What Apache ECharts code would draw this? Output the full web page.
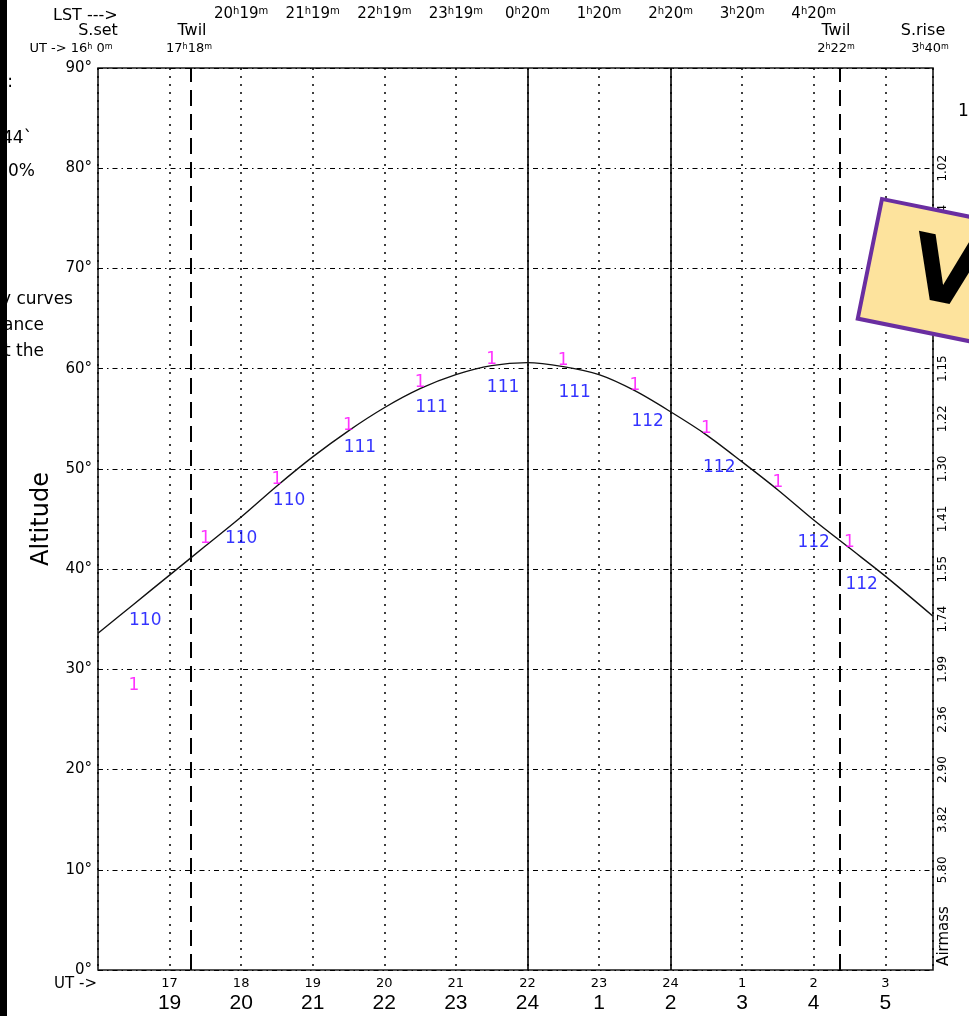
<!DOCTYPE html>
<html><head><meta charset="utf-8">
<script src="https://cdn.jsdelivr.net/npm/echarts@6/dist/echarts.min.js"></script>
<style>html,body{margin:0;padding:0;background:#fff}#c{width:969px;height:1016px}</style>
</head><body><div id="c"></div>
<script>
// ---- data ----
const utHours     = [16, 16.5, 17, 17.5, 18, 18.5, 19, 19.5, 20, 20.5, 21, 21.5, 22, 22.5, 23, 23.5, 24, 24.5, 25, 25.5, 26, 26.5, 27, 27.667];
const altitudeDeg = [33.6, 36.5, 39.4, 42.3, 45.2, 48.3, 51.2, 53.8, 56.1, 58.0, 59.4, 60.3, 60.6, 60.2, 59.4, 57.8, 55.7, 53.4, 50.7, 47.9, 44.9, 42.1, 39.3, 35.3];

const targetMarkUT   = [16.5, 17.5, 18.5, 19.5, 20.5, 21.5, 22.5, 23.5, 24.5, 25.5, 26.5];
const targetMarkAlt  = [28.4, 43.0, 48.9, 54.3, 58.6, 60.9, 60.8, 58.3, 54.0, 48.6, 42.6];
const targetMarkText = ['1','1','1','1','1','1','1','1','1','1','1'];

const moonDistUT   = [16.66, 18.0, 18.67, 19.66, 20.66, 21.66, 22.66, 23.68, 24.68, 26.0, 26.67];
const moonDistAlt  = [34.9, 43.0, 46.8, 52.1, 56.1, 58.1, 57.6, 54.7, 50.1, 42.6, 38.5];
const moonDistText = ['110','110','110','111','111','111','111','112','112','112','112'];

const twilightUT = [17.3, 26.367];   // 17h18m, 2h22m
const midnightUT = [22, 24];

const utLabels    = ['17','18','19','20','21','22','23','24','1','2','3'];
const localLabels = ['19','20','21','22','23','24','1','2','3','4','5'];
const lstLabels   = ['20h19m','21h19m','22h19m','23h19m','0h20m','1h20m','2h20m','3h20m','4h20m'];
const altTickLabels = ['0°','10°','20°','30°','40°','50°','60°','70°','80°','90°'];
const airmassAlt    = [10, 15, 20, 25, 30, 35, 40, 45, 50, 55, 60, 65, 70, 75, 80];
const airmassLabels = ['5.80','3.82','2.90','2.36','1.99','1.74','1.55','1.41','1.30','1.22','1.15','1.10','1.06','1.04','1.02'];

const headerLabels = ['LST --->','S.set','Twil','UT -> 16h 0m','17h18m','Twil','2h22m','S.rise','3h40m','UT ->'];
const sideLabels   = ['n:','44`','0%','y curves','ance','t the','1'];

// ---- layout / style ----
const FONT = 'DejaVu Sans';
const headerLayout = [
  [53,16,'left',16],[98,31,'center',16],[192,31,'center',16],[71,49,'center',13],[189,49,'center',13],
  [836,31,'center',16],[836,49,'center',13],[923,31,'center',16],[930,49,'center',13],[97,984,'right',15]
];
const sideLayout = [[13,83,'right'],[2,139,'left'],[8,172,'left'],[1,300,'left'],[3,326,'left'],[4,352,'left'],[958,112,'left']];

function supRich(s){ return s.replace(/(\d)([hm])/g, '$1{s|$2}'); }

const graphic = [];
headerLabels.forEach((t,i)=>{
  const L = headerLayout[i];
  graphic.push({type:'text', x:L[0], y:L[1], z:50, style:{
    text: supRich(t), fill:'#000', font: L[3]+'px "'+FONT+'"',
    textAlign:L[2], textVerticalAlign:'middle', align:L[2], verticalAlign:'middle',
    rich:{s:{fontSize:Math.round(L[3]*0.65), fontFamily:FONT, verticalAlign:'top', fill:'#000', color:'#000'}}
  }});
});
sideLabels.forEach((t,i)=>{
  const L = sideLayout[i];
  graphic.push({type:'text', x:L[0], y:L[1], z:50, style:{
    text:t, fill:'#000', font:'17px "'+FONT+'"', textAlign:L[2], align:L[2], textVerticalAlign:'middle', verticalAlign:'middle'
  }});
});
graphic.push({type:'text', x:944, y:936, rotation:Math.PI/2, z:50, style:{
  text:'Airmass', fill:'#000', font:'15px "'+FONT+'"', textAlign:'center', align:'center', textVerticalAlign:'middle', verticalAlign:'middle'
}});
graphic.push({type:'rect', shape:{x:0,y:0,width:7,height:1016}, style:{fill:'#000'}, z:100});
graphic.push({type:'group', x:882, y:199, rotation:-0.2, z:100, children:[
  {type:'rect', z:100, shape:{x:0,y:0,width:330,height:122}, style:{fill:'#fde39d', stroke:'#6a2ea1', lineWidth:4}},
  {type:'text', z:101, x:42, y:66, style:{text:'V', fill:'#000', font:'bold 90px "'+FONT+'"', textAlign:'left', align:'left', textVerticalAlign:'middle', verticalAlign:'middle'}}
]});

const XMAX = 27 + 40/60;
const option = {
  animation:false,
  backgroundColor:'#fff',
  textStyle:{fontFamily:FONT},
  grid:{left:98, right:36, top:68, bottom:46, show:true, borderColor:'#1a1a1a', borderWidth:1.6, backgroundColor:'transparent'},
  xAxis:[
    {type:'value', min:16, max:XMAX, interval:1, position:'bottom',
     axisLine:{show:false}, axisTick:{show:false},
     splitLine:{show:true, lineStyle:{color:'#000', type:[2,6], width:1.5}},
     axisLabel:{showMinLabel:false, showMaxLabel:false, margin:6,
       formatter:v=>{const i=Math.round(v)-17; if(i<0||i>=utLabels.length) return ''; return '{a|'+utLabels[i]+'}\n{b|'+localLabels[i]+'}';},
       rich:{a:{fontFamily:FONT,fontSize:13,lineHeight:16,color:'#000'}, b:{fontFamily:'Liberation Sans',fontSize:21,lineHeight:22,color:'#000'}}}},
    {type:'value', min:16, max:XMAX, interval:1, position:'top',
     axisLine:{show:false}, axisTick:{show:false}, splitLine:{show:false},
     axisLabel:{showMinLabel:false, showMaxLabel:false, margin:46,
       formatter:v=>{const i=Math.round(v)-18; if(i<0||i>=lstLabels.length) return ''; return lstLabels[i].replace(/^(\d+)h(\d+)m$/, '{n|$1}{s|h}{n|$2}{s|m}');},
       rich:{n:{fontFamily:FONT,fontSize:15,color:'#000',lineHeight:16}, s:{fontFamily:FONT,fontSize:10,color:'#000',verticalAlign:'top',lineHeight:10}}}}
  ],
  yAxis:[
    {type:'value', min:0, max:90, interval:10, position:'left',
     name:'Altitude', nameLocation:'middle', nameGap:44, nameRotate:90,
     nameTextStyle:{fontFamily:FONT, fontSize:24, color:'#000'},
     axisLine:{show:false}, axisTick:{show:false},
     splitLine:{show:true, lineStyle:{color:'#000', type:[5,4,1.5,4], width:1.2}},
     axisLabel:{margin:6, fontFamily:FONT, fontSize:15, color:'#000',
       formatter:v=>altTickLabels[Math.round(v/10)] || ''}},
    {type:'value', min:0, max:90, interval:5, position:'right',
     axisLine:{show:false}, axisTick:{show:false}, splitLine:{show:false},
     axisLabel:{rotate:90, margin:4, fontFamily:FONT, fontSize:12, color:'#000',
       formatter:v=>{const i=airmassAlt.indexOf(Math.round(v)); return i<0?'':airmassLabels[i];}}}
  ],
  series:[
    {type:'line', xAxisIndex:0, yAxisIndex:0, z:5, smooth:0.3, showSymbol:false,
     data:utHours.map((u,i)=>[u, altitudeDeg[i]]),
     lineStyle:{color:'#111', width:1.4},
     markLine:{silent:true, symbol:['none','none'], label:{show:false},
       lineStyle:{color:'#000', type:'solid', width:1.6},
       data:midnightUT.map(u=>({xAxis:u}))}},
    {type:'scatter', xAxisIndex:0, yAxisIndex:0, z:6, symbolSize:1,
     itemStyle:{color:'rgba(0,0,0,0)'},
     data:targetMarkUT.map((u,i)=>({name:targetMarkText[i], value:[u, targetMarkAlt[i]]})),
     label:{show:true, position:'inside', formatter:'{b}', color:'#ff00ff', fontFamily:FONT, fontSize:17},
     markLine:{silent:true, symbol:['none','none'], label:{show:false},
       lineStyle:{color:'#000', type:[16,8], width:2},
       data:twilightUT.map(u=>({xAxis:u}))}},
    {type:'scatter', xAxisIndex:0, yAxisIndex:0, z:6, symbolSize:1,
     itemStyle:{color:'rgba(0,0,0,0)'},
     data:moonDistUT.map((u,i)=>({name:moonDistText[i], value:[u, moonDistAlt[i]]})),
     label:{show:true, position:'inside', formatter:'{b}', color:'#0000ff', fontFamily:FONT, fontSize:17}}
  ],
  graphic:graphic
};
const chart = echarts.init(document.getElementById('c'), null, {renderer:'canvas', width:969, height:1016});
chart.setOption(option);
</script>
</body></html>
